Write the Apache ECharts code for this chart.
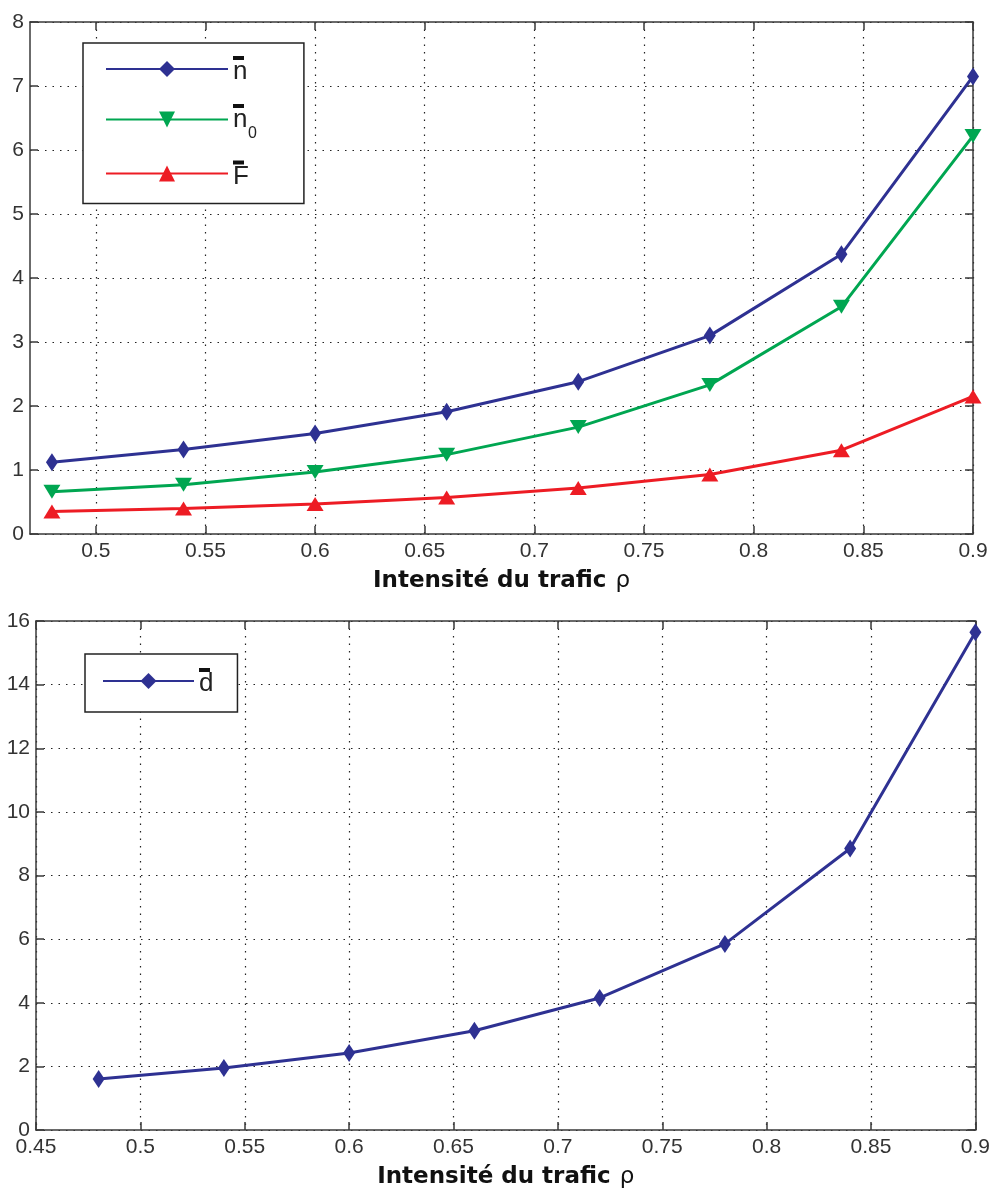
<!DOCTYPE html>
<html>
<head>
<meta charset="utf-8">
<script src="https://cdn.jsdelivr.net/npm/echarts@6/dist/echarts.min.js"></script>
<style>
html,body{margin:0;padding:0;background:#fff;}
#c{width:993px;height:1197px;}
</style>
</head>
<body>
<div id="c"></div>
<script>
// ---- data ----
var rho = [0.48, 0.54, 0.60, 0.66, 0.72, 0.78, 0.84, 0.90];
var nMean = [1.12, 1.32, 1.57, 1.91, 2.38, 3.10, 4.37, 7.15];
var n0Mean = [0.66, 0.77, 0.97, 1.24, 1.67, 2.33, 3.55, 6.22];
var fMean = [0.35, 0.40, 0.47, 0.57, 0.72, 0.93, 1.31, 2.15];
var dMean = [1.60, 1.95, 2.42, 3.12, 4.15, 5.85, 8.85, 15.65];
var topXTicks = [0.5, 0.55, 0.6, 0.65, 0.7, 0.75, 0.8, 0.85, 0.9];
var xTitle = 'Intensité du trafic';
var legendTop = ['n', 'n0', 'F'];
var legendBottom = ['d'];

function pairs(xs, ys){ return xs.map(function(x,i){ return [x, ys[i]]; }); }

var AX = '#3a3a3a';
var LBL = '#333';
var FONT = 'Liberation Sans';
var dotted = {color:'#222', width:1.2, type:[1.5,6]};

function xMain(gi, extra){
  var o = {
    type:'value', gridIndex:gi, position:'bottom',
    axisLine:{show:true, onZero:false, lineStyle:{color:AX, width:1.5}},
    axisTick:{show:true, inside:true, length:8, lineStyle:{color:AX, width:1.5}},
    axisLabel:{show:true, color:LBL, fontFamily:FONT, fontSize:21, margin:7},
    splitLine:{show:true, lineStyle:dotted},
    name:'{b|' + xTitle + '}{r|ρ}', nameLocation:'middle', nameGap:36,
    nameTextStyle:{rich:{
      b:{fontFamily:'DejaVu Sans', fontWeight:'bold', fontSize:23, color:'#111'},
      r:{fontFamily:'DejaVu Sans', fontSize:23, color:'#111', padding:[0,0,0,9]}
    }}
  };
  for (var k in extra) o[k] = extra[k];
  return o;
}
function xTop(gi, extra){
  var o = {
    type:'value', gridIndex:gi, position:'top',
    axisLine:{show:true, onZero:false, lineStyle:{color:AX, width:1.5}},
    axisTick:{show:true, inside:true, length:8, lineStyle:{color:AX, width:1.5}},
    axisLabel:{show:false}, splitLine:{show:false}
  };
  for (var k in extra) o[k] = extra[k];
  return o;
}
function yMain(gi, max, interval){
  return {
    type:'value', gridIndex:gi, position:'left', min:0, max:max, interval:interval,
    axisLine:{show:true, onZero:false, lineStyle:{color:AX, width:1.5}},
    axisTick:{show:true, inside:true, length:8, lineStyle:{color:AX, width:1.5}},
    axisLabel:{show:true, color:LBL, fontFamily:FONT, fontSize:21, margin:6},
    splitLine:{show:true, lineStyle:dotted}
  };
}
function yRight(gi, max, interval){
  return {
    type:'value', gridIndex:gi, position:'right', min:0, max:max, interval:interval,
    axisLine:{show:true, onZero:false, lineStyle:{color:AX, width:1.5}},
    axisTick:{show:true, inside:true, length:8, lineStyle:{color:AX, width:1.5}},
    axisLabel:{show:false}, splitLine:{show:false}
  };
}

var legendRich = {
  bar:{width:9, height:4, lineHeight:6, backgroundColor:'#111', fontSize:4, color:'#111', padding:[0,0,0,2]},
  t:{fontFamily:FONT, fontSize:26, lineHeight:22, color:'#222'},
  sp:{fontFamily:FONT, fontSize:4, width:15, lineHeight:5},
  sub:{fontFamily:FONT, fontSize:16, lineHeight:5, color:'#222'}
};
function legendFmt(name){
  if (name === 'n0') return '{bar| }\n{t|n}\n{sp| }{sub|0}';
  return '{bar| }\n{t|' + name + '}';
}

var common = {type:'line', clip:false, lineStyle:{width:3}};

var option = {
  animation:false,
  backgroundColor:'#fff',
  grid:[
    {left:30, top:22, width:943, height:512},
    {left:36, top:621, width:942, height:509}
  ],
  xAxis:[
    xMain(0, {min:0.47, max:0.9,
      axisTick:{show:true, inside:true, length:8, lineStyle:{color:AX, width:1.5}, customValues:topXTicks},
      axisLabel:{show:true, color:LBL, fontFamily:FONT, fontSize:21, margin:7, customValues:topXTicks}}),
    xTop(0, {min:0.47, max:0.9,
      axisTick:{show:true, inside:true, length:8, lineStyle:{color:AX, width:1.5}, customValues:topXTicks}}),
    xMain(1, {min:0.45, max:0.9, interval:0.05}),
    xTop(1, {min:0.45, max:0.9, interval:0.05})
  ],
  yAxis:[
    yMain(0, 8, 1), yRight(0, 8, 1),
    yMain(1, 16, 2), yRight(1, 16, 2)
  ],
  legend:[
    {data:legendTop, orient:'vertical', left:83, top:43, itemWidth:122, itemHeight:20, itemGap:19,
     padding:[13,47,14,22], borderColor:'#222', borderWidth:1.5, backgroundColor:'#fff',
     formatter:legendFmt, textStyle:{rich:legendRich}},
    {data:legendBottom, orient:'vertical', left:85, top:654, itemWidth:91, itemHeight:20, itemGap:10,
     padding:[14,24,15,17], borderColor:'#222', borderWidth:1.5, backgroundColor:'#fff',
     formatter:legendFmt, textStyle:{rich:legendRich}}
  ],
  series:[
    Object.assign({}, common, {name:'n', xAxisIndex:0, yAxisIndex:0, data:pairs(rho, nMean),
      color:'#2e3192', symbol:'diamond', symbolSize:[12,18]}),
    Object.assign({}, common, {name:'n0', xAxisIndex:0, yAxisIndex:0, data:pairs(rho, n0Mean),
      color:'#00a651', symbol:'triangle', symbolRotate:180, symbolSize:[17,14]}),
    Object.assign({}, common, {name:'F', xAxisIndex:0, yAxisIndex:0, data:pairs(rho, fMean),
      color:'#ed1c24', symbol:'triangle', symbolSize:[17,14]}),
    Object.assign({}, common, {name:'d', xAxisIndex:2, yAxisIndex:2, data:pairs(rho, dMean),
      color:'#2e3192', symbol:'diamond', symbolSize:[12,18]})
  ]
};

var chart = echarts.init(document.getElementById('c'), null, {renderer:'canvas'});
chart.setOption(option);
</script>
</body>
</html>
